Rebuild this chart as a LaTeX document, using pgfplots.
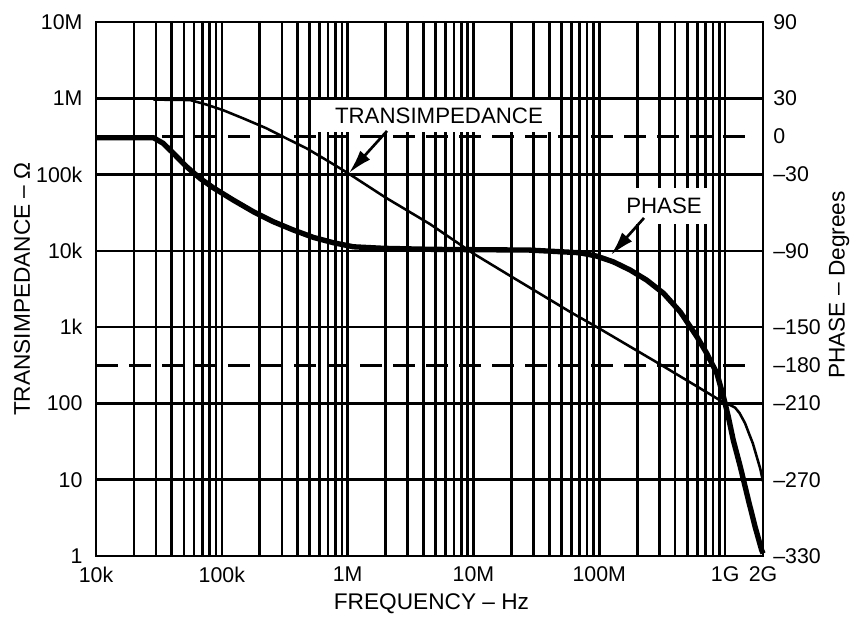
\documentclass[border=0pt]{standalone}
\usepackage{fontspec}
\setmainfont{Liberation Sans}
\usepackage{pgfplots}
\usepackage{pgfplotstable}
\pgfplotsset{compat=1.18}
\usetikzlibrary{arrows.meta}

% Open-loop transimpedance (ohms) versus frequency (Hz)
\pgfplotstableread{
f R
2.86e4 9.6e5
4e4 9.55e5
5.6e4 9.47e5
7.5e4 8.3e5
1.02e5 7.0e5
1.5e5 5.4e5
2.27e5 4.03e5
3.3e5 2.95e5
4.73e5 2.2e5
7e5 1.5e5
1e6 1.05e5
2e6 5.0e4
4.5e6 2.25e4
1e7 9.2e3
2e7 4.6e3
6e7 1.55e3
1e8 9.6e2
3e8 330
8e8 125
1e9 100
1.1e9 95
1.2e9 88
1.3e9 75
1.44e9 55
1.55e9 40
1.66e9 30
1.8e9 19
1.9e9 14
2e9 9.5
}\transimp

% Phase (degrees) versus frequency (Hz)
\pgfplotstableread{
f P
1e4 -1
2.86e4 -1
3.43e4 -5.5
4.12e4 -13.3
5.26e4 -23.9
6.71e4 -33
8.56e4 -40.4
1.23e5 -50
1.78e5 -59.2
2.57e5 -67.1
3.70e5 -73.6
5.33e5 -79.4
7.69e5 -83.6
1.11e6 -86.8
1.92e6 -88
4.52e6 -88.8
2.8e7 -89.4
7.0e7 -91.5
9.5e7 -94.1
1.29e8 -98.6
1.76e8 -105.1
2.38e8 -113
3.24e8 -123.4
4.39e8 -137.9
4.67e8 -141.8
5.96e8 -157.5
7.14e8 -170.6
8.59e8 -186.3
9.70e8 -204.7
1.06e9 -220.5
1.16e9 -238.8
1.32e9 -259.8
1.53e9 -286
1.73e9 -307
1.95e9 -325.3
2e9 -328
}\phase

\begin{document}
\begin{tikzpicture}
\begin{axis}[
  at={(0,0)}, anchor=south west,
  scale only axis, width=500.25pt, height=400.5pt,
  xmode=log, xmin=1e4, xmax=2e9,
  major tick length=0pt, minor tick length=0pt,
  axis line style={line width=2pt},
  tick label style={font=\fontsize{16}{19}\selectfont},
  ymode=log, ymin=1, ymax=1e7,
  xtick={1e4,1e5,1e6,1e7,1e8,1e9,2e9},
  xticklabels={10k,100k,1M,10M,100M,1G,2G},
  minor xtick={2e4,3e4,4e4,5e4,6e4,7e4,8e4,9e4,
               2e5,3e5,4e5,5e5,6e5,7e5,8e5,9e5,
               2e6,3e6,4e6,5e6,6e6,7e6,8e6,9e6,
               2e7,3e7,4e7,5e7,6e7,7e7,8e7,9e7,
               2e8,3e8,4e8,5e8,6e8,7e8,8e8,9e8},
  ytick={1,10,100,1e3,1e4,1e5,1e6,1e7},
  yticklabels={1,10,100,1k,10k,100k,1M,10M},
  xmajorgrids, xminorgrids, ymajorgrids,
  major grid style={black, line width=2pt},
  minor grid style={black, line width=2pt},
  xticklabel style={anchor=north, inner sep=0pt, yshift=-8pt},
  yticklabel style={anchor=east, inner sep=0pt, xshift=-10pt},
]
  \addplot[black, line width=1.9pt, line join=round] table[x=f, y=R] {\transimp};
\end{axis}

\begin{axis}[
  at={(0,0)}, anchor=south west,
  scale only axis, width=500.25pt, height=400.5pt,
  xmode=log, xmin=1e4, xmax=2e9,
  major tick length=0pt, minor tick length=0pt,
  axis line style={line width=2pt},
  tick label style={font=\fontsize{16}{19}\selectfont},
  ymin=-330, ymax=90,
  axis x line=none, axis y line*=right,
  xtick=\empty,
  ytick={-330,-270,-210,-180,-150,-90,-30,0,30,90},
  yticklabels={--330,--270,--210,--180,--150,--90,--30,0,30,90},
  yticklabel style={anchor=west, inner sep=0pt, xshift=7.5pt},
  clip=false,
]
  % reference levels at 0 and -180 degrees
  \addplot[black, line width=2pt, dash pattern=on 16.5pt off 8.25pt]
    coordinates {(1e4,0) (1.73e9,0)};
  \addplot[black, line width=2pt, dash pattern=on 16.5pt off 8.25pt]
    coordinates {(1e4,-180) (1.73e9,-180)};
  \addplot[black, line width=4pt, line join=round] table[x=f, y=P] {\phase};

  % callouts
  \node[fill=white, inner sep=0pt, minimum width=181pt, minimum height=24pt,
        font=\fontsize{16.7}{19}\selectfont]
    at (rel axis cs:0.5142,0.8240) {TRANSIMPEDANCE};
  \draw[line width=2pt, -{Latex[length=18pt, width=10pt]}]
    (rel axis cs:0.4363,0.7959) -- (rel axis cs:0.3793,0.7172);
  \node[fill=white, inner sep=0pt, minimum width=69pt, minimum height=27pt,
        font=\fontsize{16.7}{19}\selectfont]
    at (rel axis cs:0.8516,0.6554) {PHASE};
  \draw[line width=2pt, -{Latex[length=18pt, width=10pt]}]
    (rel axis cs:0.8216,0.6330) -- (rel axis cs:0.7721,0.5637);
\end{axis}

% axis titles
\node[rotate=90, font=\fontsize{17}{20}\selectfont] at (-55.5pt,200.25pt) {TRANSIMPEDANCE -- Ω};
\node[rotate=90, font=\fontsize{17}{20}\selectfont] at (557.25pt,203.25pt) {PHASE -- Degrees};
\node[anchor=base, font=\fontsize{17}{20}\selectfont] at (251.6pt,-40.5pt) {FREQUENCY -- Hz};

\pgfresetboundingbox
\path[use as bounding box] (-72pt,-48pt) rectangle (570pt,417pt);
\end{tikzpicture}
\end{document}
